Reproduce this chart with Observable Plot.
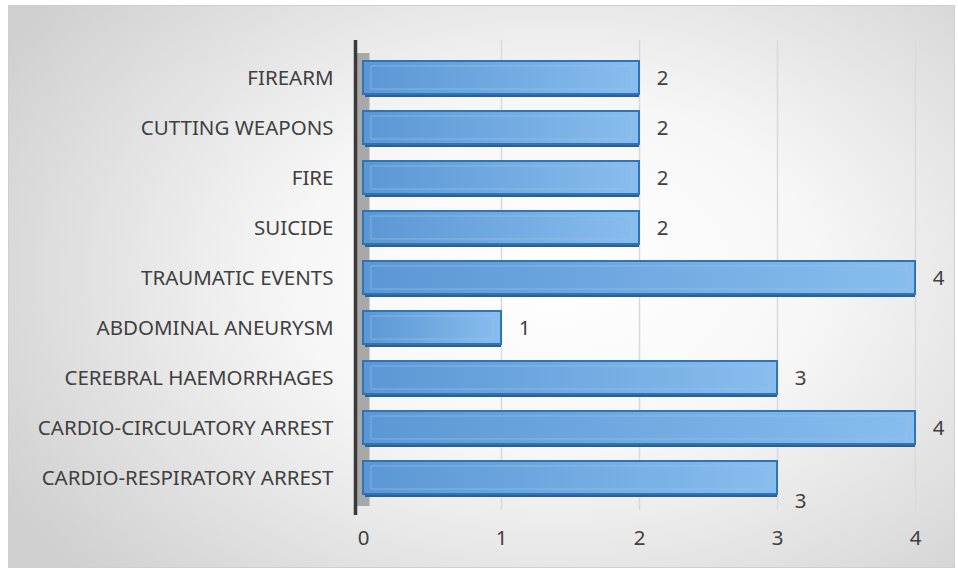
<!DOCTYPE html>
<html>
<head>
<meta charset="utf-8">
<script src="https://cdn.jsdelivr.net/npm/d3@7"></script>
<script src="https://cdn.jsdelivr.net/npm/@observablehq/plot@0.6"></script>
<style>
  html, body { margin: 0; padding: 0; background: #ffffff; }
  #frame {
    position: absolute; left: 8px; top: 5px; width: 945px; height: 561px;
    border: 1px solid #cfcfcf;
    background: radial-gradient(ellipse 68% 78% at 58% 48%, #ffffff 0%, #f7f7f7 40%, #d0d0d0 100%);
    overflow: hidden;
  }
  #frame svg { display: block; background: transparent; }
</style>
</head>
<body>
<div id="frame"></div>
<script>
const categories = [
  "FIREARM",
  "CUTTING WEAPONS",
  "FIRE",
  "SUICIDE",
  "TRAUMATIC EVENTS",
  "ABDOMINAL ANEURYSM",
  "CEREBRAL HAEMORRHAGES",
  "CARDIO-CIRCULATORY ARREST",
  "CARDIO-RESPIRATORY ARREST"
];
const values = [2, 2, 2, 2, 4, 1, 3, 4, 3];
const xTicks = [0, 1, 2, 3, 4];

const data = categories.map((c, i) => ({category: c, value: values[i]}));
const last = data.slice(-1);
const others = data.slice(0, -1);

const plot = Plot.plot({
  width: 945,
  height: 561,
  marginLeft: 354,
  marginRight: 39,
  marginTop: 45,
  marginBottom: 63,
  style: {fontFamily: "'Noto Sans', sans-serif", fontSize: "20.5px", color: "#404040", background: "transparent"},
  x: {domain: [0, 4], ticks: xTicks, label: null},
  y: {domain: categories, label: null, paddingInner: 0.34, paddingOuter: 0.17},
  marks: [
    Plot.ruleX(xTicks.filter(d => d > 0), {stroke: "#d9d9d9", strokeWidth: 1.5, insetTop: -11, insetBottom: -6}),
    Plot.ruleX([0], {dx: -1, stroke: "#a8a8a8", strokeWidth: 14, insetTop: 2, insetBottom: -2}),
    Plot.ruleX([0], {dx: -8, stroke: "#3a3a3a", strokeWidth: 3.5, insetTop: -11, insetBottom: -11}),
    Plot.barX(data, {x: "value", y: "category", dy: 3, fill: "#2f5f8f", insetLeft: 2}),
    Plot.barX(data, {x: "value", y: "category", fill: "url(#barGrad)", stroke: "#2e75b6", strokeWidth: 2}),
    Plot.barX(data, {x: "value", y: "category", fill: "none", stroke: "#9cc3e8", strokeOpacity: 0.6, strokeWidth: 1, insetTop: 5, insetBottom: 5, insetLeft: 8, insetRight: 8}),
    Plot.text(others, {x: "value", y: "category", text: d => String(d.value), dx: 23, textAnchor: "middle", fill: "#404040", fontSize: 20.5}),
    Plot.ruleX(last, {x: "value", y: "category", dx: 1, stroke: "#808080", strokeWidth: 1.2, insetTop: 20, insetBottom: -13}),
    Plot.text(last, {x: "value", y: "category", text: d => String(d.value), dx: 23, dy: 23, textAnchor: "middle", fill: "#404040", fontSize: 20.5}),
    Plot.axisX(xTicks, {tickSize: 0, tickPadding: 26, tickFormat: d3.format("d"), fontSize: 20.5, fill: "#404040"}),
    Plot.axisY({tickSize: 0, tickPadding: 30, fontSize: 20.5, fill: "#404040"})
  ]
});

const svg = d3.select(plot);
const defs = svg.insert("defs", ":first-child");
const g = defs.append("linearGradient").attr("id", "barGrad").attr("x1", "0").attr("x2", "1").attr("y1", "0").attr("y2", "0");
g.append("stop").attr("offset", "0%").attr("stop-color", "#5b97d4");
g.append("stop").attr("offset", "100%").attr("stop-color", "#88bdee");

document.getElementById("frame").appendChild(plot);
</script>
</body>
</html>
